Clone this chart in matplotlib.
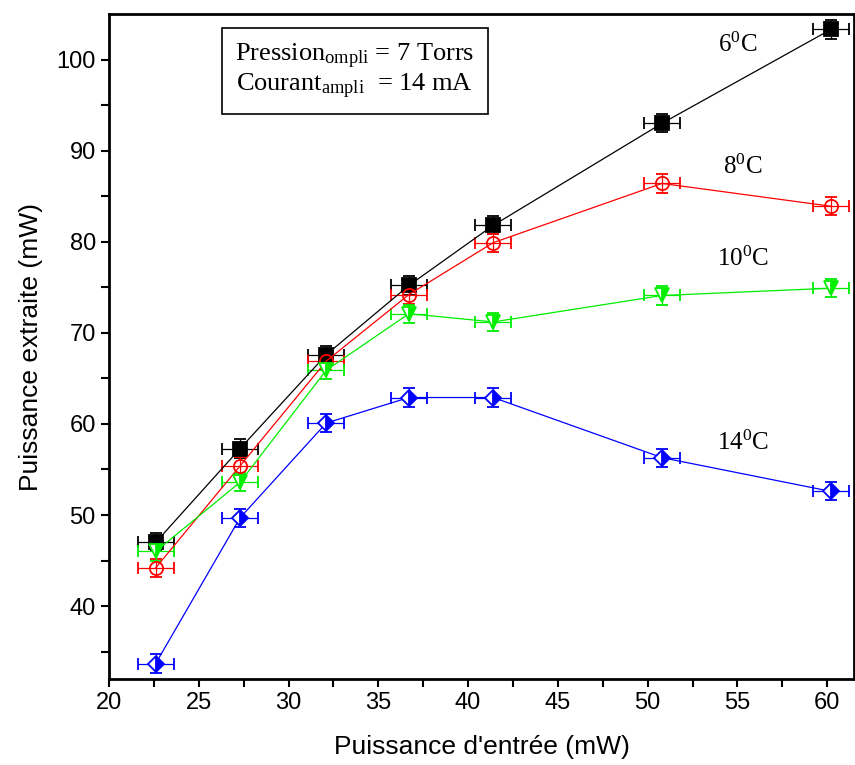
import numpy as np
import matplotlib
matplotlib.use('Agg')
import matplotlib.pyplot as plt

plt.rcParams['font.family'] = ['Liberation Sans', 'DejaVu Sans']
plt.rcParams['mathtext.fontset'] = 'custom'
plt.rcParams['mathtext.rm'] = 'Liberation Serif'
plt.rcParams['mathtext.it'] = 'Liberation Serif:italic'

# Données
p_entree = [22.6, 27.3, 32.1, 36.7, 41.4, 50.8, 60.2]
p_6C = [47.0, 57.3, 67.6, 75.2, 81.8, 93.0, 103.3]
p_8C = [44.2, 55.4, 66.9, 74.2, 79.9, 86.4, 83.9]
p_10C = [46.0, 53.6, 65.9, 72.1, 71.2, 74.1, 74.9]
p_14C = [33.7, 49.7, 60.1, 62.9, 62.9, 56.3, 52.6]
err_x = 1.0
err_y = 1.0

series = [
    (p_6C, 'black', 's', 'full', r'6$^{\mathrm{0}}$C', (55.0, 101.6)),
    (p_8C, 'red', 'o', 'none', r'8$^{\mathrm{0}}$C', (55.3, 88.2)),
    (p_10C, '#00ee00', 'v', 'right', r'10$^{\mathrm{0}}$C', (55.3, 78.1)),
    (p_14C, 'blue', 'D', 'right', r'14$^{\mathrm{0}}$C', (55.3, 57.9)),
]

fig = plt.figure(figsize=(8.55, 7.65), dpi=100)
ax = fig.add_axes([0.1275, 0.1124, 0.8715, 0.8693])

for vals, col, mk, fs, lab, pos in series:
    ax.errorbar(p_entree, vals, xerr=err_x, yerr=err_y, color=col, lw=0.9,
                marker=mk, fillstyle=fs, markersize=9.5 if mk != 'D' else 8.5,
                markerfacecolor=col if fs != 'none' else 'none',
                markerfacecoloralt='white', markeredgecolor=col, markeredgewidth=1.3,
                ecolor=col, elinewidth=0.9, capsize=4, capthick=0.9)
    ax.text(pos[0], pos[1], lab, ha='center', va='center', fontsize=18,
            family='Liberation Serif')

ax.set_xlim(20, 61.5)
ax.set_ylim(32, 105)
ax.set_xticks(np.arange(20, 61, 5))
ax.set_xticks(np.arange(22.5, 61, 5), minor=True)
ax.set_yticks(np.arange(40, 101, 10))
ax.set_yticks(np.arange(35, 105, 10), minor=True)
ax.tick_params(which='both', direction='out', length=6, width=1.5, labelsize=17)
for s in ax.spines.values():
    s.set_linewidth(2)

ax.set_xlabel("Puissance d'entrée (mW)", fontsize=19, labelpad=15)
ax.set_ylabel("Puissance extraite (mW)", fontsize=19, labelpad=10)

ax.text(0.33, 0.914,
        'Pression$_{\\mathrm{ompli}}$ = 7 Torrs\nCourant$_{\\mathrm{ampli}}$  = 14 mA',
        transform=ax.transAxes, ha='center', va='center', fontsize=19,
        family='Liberation Serif', linespacing=1.05,
        bbox=dict(boxstyle='square,pad=0.5', fc='white', ec='black', lw=1.2))

fig.savefig('out.png', dpi=100)
